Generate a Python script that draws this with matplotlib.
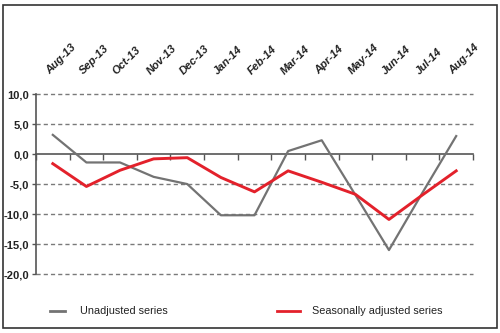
# Unadjusted vs seasonally adjusted series, Aug-13 to Aug-14

import matplotlib
matplotlib.use('Agg')
import matplotlib.pyplot as plt
from matplotlib.lines import Line2D
from matplotlib.patches import Rectangle

# -- data --
months = ['Aug-13', 'Sep-13', 'Oct-13', 'Nov-13', 'Dec-13', 'Jan-14', 'Feb-14',
          'Mar-14', 'Apr-14', 'May-14', 'Jun-14', 'Jul-14', 'Aug-14']
unadjusted = [3.2, -1.4, -1.4, -3.8, -5.0, -10.2, -10.2, 0.5, 2.3, -6.8, -16.0, -6.4, 3.0]
seasonally_adjusted = [-1.6, -5.4, -2.7, -0.8, -0.6, -3.9, -6.3, -2.8, -4.7, -6.7, -10.9, -6.8, -2.8]
y_ticks = [10, 5, 0, -5, -10, -15, -20]

plt.rcParams['font.family'] = ['Liberation Sans', 'DejaVu Sans']

fig = plt.figure(figsize=(5, 3.33), dpi=100)
ax = fig.add_axes([0.072, 0.177, 0.874, 0.5405])

x = [i + 0.5 for i in range(len(months))]

# dashed grid (except zero line)
for v in y_ticks:
    if v != 0:
        ax.axhline(v, color='#7a7a7a', lw=1, linestyle=(0, (3, 2.2)), zorder=1,
                   clip_on=False)

ax.plot(x, unadjusted, color='#737373', lw=1.6, zorder=3)
ax.plot(x, seasonally_adjusted, color='#e3212b', lw=2.1, zorder=4)

ax.set_xlim(0, len(months))
ax.set_ylim(-20, 10)

# axes styling
for s in ['top', 'right']:
    ax.spines[s].set_visible(False)
ax.spines['bottom'].set_position(('data', 0))
ax.spines['bottom'].set_color('#555555')
ax.spines['left'].set_color('#555555')
ax.spines['bottom'].set_linewidth(1.2)
ax.spines['left'].set_linewidth(1.2)

ax.set_xticks(range(len(months) + 1))
ax.set_xticklabels([])
ax.tick_params(axis='x', direction='out', length=4, color='#555555', width=1)

ax.set_yticks(y_ticks)
ax.set_yticklabels([f'{v:.1f}'.replace('.', ',') for v in y_ticks],
                   fontsize=8, fontweight='bold', color='#222222')
ax.tick_params(axis='y', direction='out', length=3, color='#555555', width=1, pad=2)

# month labels above the plot, rotated
for xi, m in zip(x, months):
    ax.text(xi - 0.05, 1.1, m, transform=ax.get_xaxis_transform(),
            rotation=45, rotation_mode='anchor', ha='left', va='bottom',
            fontsize=8, fontweight='bold', fontstyle='italic', color='#222222')

# legend drawn by hand
fig.add_artist(Line2D([0.100, 0.130], [0.066, 0.066], color='#737373', lw=2,
                      transform=fig.transFigure))
fig.text(0.160, 0.066, 'Unadjusted series', fontsize=7.8, va='center',
         color='#222222')
fig.add_artist(Line2D([0.554, 0.600], [0.066, 0.066], color='#e3212b', lw=2,
                      transform=fig.transFigure))
fig.text(0.624, 0.066, 'Seasonally adjusted series', fontsize=7.8, va='center',
         color='#222222')

# outer border
fig.add_artist(Rectangle((0.006, 0.015), 0.988, 0.97, transform=fig.transFigure,
                         fill=False, edgecolor='#333333', lw=1.2))

plt.savefig('out.png', dpi=100)
